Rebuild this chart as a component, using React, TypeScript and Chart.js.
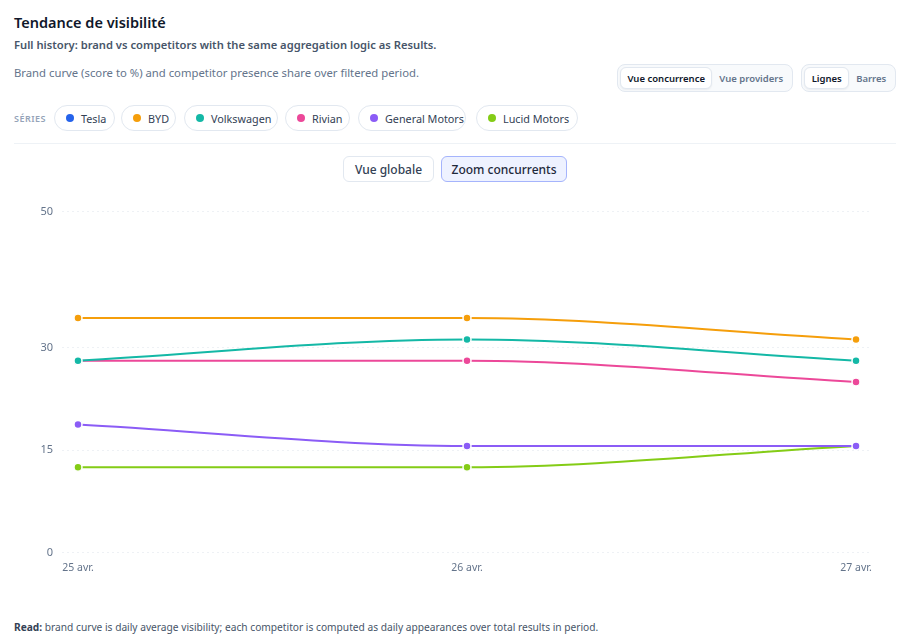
import React, { useEffect, useRef } from "react";
import { Chart, registerables } from "chart.js";

Chart.register(...registerables);

const dateLabels = ["25 avr.", "26 avr.", "27 avr."];
const seriesNames = ["Tesla", "BYD", "Volkswagen", "Rivian", "General Motors", "Lucid Motors"];
const seriesColors = ["#2563eb", "#f59e0b", "#14b8a6", "#ec4899", "#8b5cf6", "#84cc16"];
const bydValues = [34.375, 34.375, 31.25];
const volkswagenValues = [28.125, 31.25, 28.125];
const rivianValues = [28.125, 28.125, 25];
const gmValues = [18.75, 15.625, 15.625];
const lucidValues = [12.5, 12.5, 15.625];
const yTicks = [0, 15, 30, 50];

const plotted: { name: string; values: number[] }[] = [
  { name: "BYD", values: bydValues },
  { name: "Volkswagen", values: volkswagenValues },
  { name: "Rivian", values: rivianValues },
  { name: "General Motors", values: gmValues },
  { name: "Lucid Motors", values: lucidValues },
];

const FONT = "'Noto Sans', 'Open Sans', sans-serif";

function LineChart() {
  const ref = useRef<HTMLCanvasElement>(null);
  useEffect(() => {
    if (!ref.current) return;
    const chart = new Chart(ref.current, {
      type: "line",
      data: {
        datasets: plotted.map((s) => {
          const c = seriesColors[seriesNames.indexOf(s.name)];
          return {
            label: s.name,
            data: s.values.map((v, i) => ({ x: i, y: v })),
            borderColor: c,
            backgroundColor: c,
            pointBackgroundColor: c,
            pointBorderColor: "#ffffff",
            pointBorderWidth: 1.5,
            pointRadius: 4,
            borderWidth: 2,
            cubicInterpolationMode: "monotone" as const,
            fill: false,
          };
        }),
      },
      options: {
        animation: false,
        responsive: true,
        maintainAspectRatio: false,
        layout: { padding: { top: 6, right: 24, left: 0, bottom: 0 } },
        plugins: { legend: { display: false }, tooltip: { enabled: false } },
        scales: {
          x: {
            type: "linear",
            min: -0.0411,
            max: 2.0411,
            grid: { display: false },
            border: { display: false },
            afterBuildTicks: (axis: any) => {
              axis.ticks = dateLabels.map((_, i) => ({ value: i }));
            },
            ticks: {
              color: "#64748b",
              font: { family: FONT, size: 10.5 },
              padding: 1,
              maxRotation: 0,
              callback: (v: any) => dateLabels[Number(v)] ?? "",
            },
          },
          y: {
            min: 0,
            max: 50,
            afterBuildTicks: (axis: any) => {
              axis.ticks = yTicks.map((v) => ({ value: v }));
            },
            afterFit: (axis: any) => {
              axis.width = 48;
            },
            grid: { color: "#eef1f5", lineWidth: 1, drawTicks: false },
            border: { display: false, dash: [2, 3] },
            ticks: {
              color: "#64748b",
              font: { family: FONT, size: 11 },
              padding: 9,
            },
          },
        },
      },
    });
    return () => chart.destroy();
  }, []);
  return <canvas ref={ref} />;
}

const segWrap: React.CSSProperties = {
  position: "absolute",
  top: 64,
  height: 28,
  boxSizing: "border-box",
  background: "#f8fafc",
  border: "1px solid #e2e8f0",
  borderRadius: 8,
  display: "flex",
  alignItems: "center",
  padding: 2,
  fontFamily: FONT,
  fontSize: 9.5,
  fontWeight: 600,
};

function SegBtn({ label, active, width }: { label: string; active: boolean; width: number }) {
  return (
    <div
      style={{
        width,
        height: 22,
        boxSizing: "border-box",
        display: "flex",
        alignItems: "center",
        justifyContent: "center",
        borderRadius: 6,
        background: active ? "#ffffff" : "transparent",
        border: active ? "1px solid #e2e8f0" : "1px solid transparent",
        boxShadow: active ? "0 1px 2px rgba(15,23,42,0.06)" : "none",
        color: active ? "#0f172a" : "#64748b",
      }}
    >
      {label}
    </div>
  );
}

const pills = [
  { x: 54, w: 61 },
  { x: 121, w: 55 },
  { x: 184, w: 94 },
  { x: 285, w: 65 },
  { x: 358, w: 108 },
  { x: 476, w: 102 },
];

export default function App() {
  return (
    <div
      style={{
        position: "absolute",
        left: 0,
        top: 0,
        width: 916,
        height: 638,
        background: "#ffffff",
        fontFamily: FONT,
        overflow: "hidden",
      }}
    >
      <div style={{ position: "absolute", left: 14, top: 12, fontSize: 14.5, fontWeight: 600, color: "#0f172a", whiteSpace: "nowrap" }}>
        Tendance de visibilité
      </div>
      <div style={{ position: "absolute", left: 14, top: 37, fontSize: 11.2, fontWeight: 600, color: "#475569", whiteSpace: "nowrap" }}>
        Full history: brand vs competitors with the same aggregation logic as Results.
      </div>
      <div style={{ position: "absolute", left: 14, top: 65, fontSize: 11.3, color: "#64748b", whiteSpace: "nowrap" }}>
        Brand curve (score to %) and competitor presence share over filtered period.
      </div>

      <div style={{ ...segWrap, left: 617, width: 176 }}>
        <SegBtn label="Vue concurrence" active={true} width={93} />
        <SegBtn label="Vue providers" active={false} width={78} />
      </div>
      <div style={{ ...segWrap, left: 801, width: 95 }}>
        <SegBtn label="Lignes" active={true} width={46} />
        <SegBtn label="Barres" active={false} width={44} />
      </div>

      <div style={{ position: "absolute", left: 14, top: 112, fontSize: 9, fontWeight: 600, letterSpacing: 0.5, color: "#94a3b8" }}>
        SÉRIES
      </div>
      {seriesNames.map((n, i) => (
        <div
          key={n}
          style={{
            position: "absolute",
            left: pills[i].x,
            top: 105,
            width: pills[i].w,
            height: 26,
            boxSizing: "border-box",
            border: "1px solid #e2e8f0",
            borderRadius: 13,
            display: "flex",
            alignItems: "center",
            paddingLeft: 11,
            fontSize: 10.8,
            color: "#334155",
            whiteSpace: "nowrap",
          }}
        >
          <span style={{ width: 8, height: 8, borderRadius: 4, background: seriesColors[i], marginRight: 7, flex: "none" }} />
          {n}
        </div>
      ))}

      <div style={{ position: "absolute", left: 14, top: 143, width: 882, height: 1, background: "#eef2f6" }} />

      <div
        style={{
          position: "absolute",
          left: 343,
          top: 156,
          width: 91,
          height: 26,
          boxSizing: "border-box",
          border: "1px solid #e2e8f0",
          borderRadius: 6,
          display: "flex",
          alignItems: "center",
          justifyContent: "center",
          fontSize: 12,
          fontWeight: 500,
          color: "#334155",
          background: "#ffffff",
        }}
      >
        Vue globale
      </div>
      <div
        style={{
          position: "absolute",
          left: 441,
          top: 156,
          width: 126,
          height: 26,
          boxSizing: "border-box",
          border: "1px solid #a5b4fc",
          borderRadius: 6,
          display: "flex",
          alignItems: "center",
          justifyContent: "center",
          fontSize: 12,
          fontWeight: 500,
          color: "#1e293b",
          background: "#eef2ff",
        }}
      >
        Zoom concurrents
      </div>

      <div style={{ position: "absolute", left: 14, top: 196, width: 882, height: 379 }}>
        <LineChart />
      </div>

      <div style={{ position: "absolute", left: 14, top: 620, fontSize: 10.2, color: "#475569", whiteSpace: "nowrap" }}>
        <span style={{ fontWeight: 700, color: "#334155" }}>Read:</span> brand curve is daily average visibility; each competitor is computed as daily appearances over total results in period.
      </div>
    </div>
  );
}
